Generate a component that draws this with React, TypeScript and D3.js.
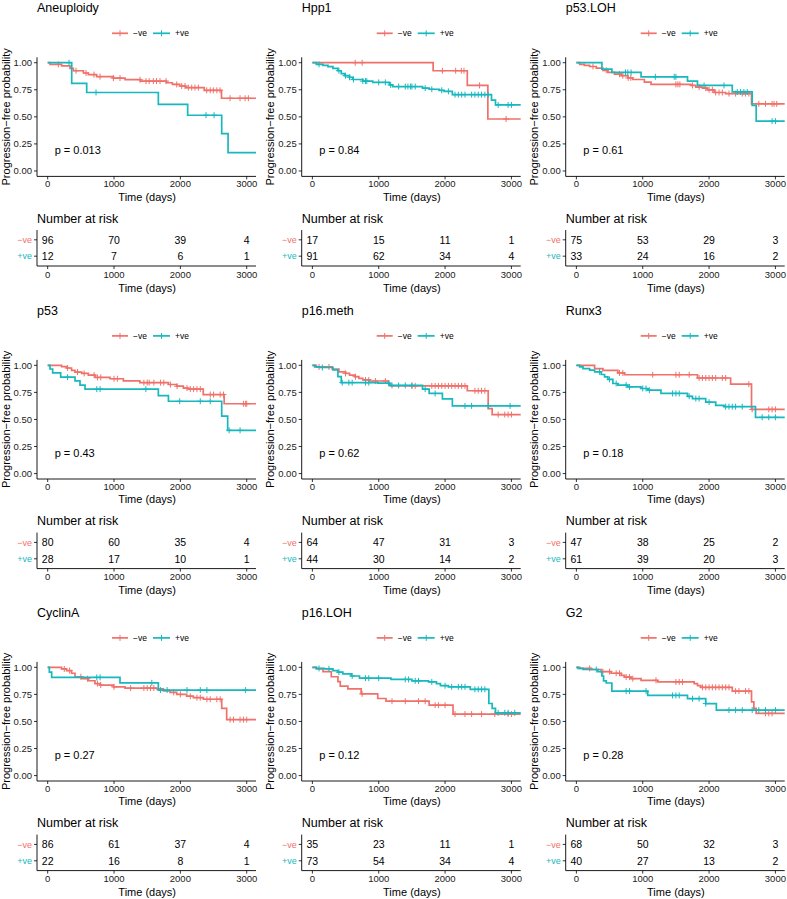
import React from "react";
import * as d3 from "d3";

// ---------- DATA ----------
const titles = ["Aneuploidy", "Hpp1", "p53.LOH", "p53", "p16.meth", "Runx3", "CyclinA", "p16.LOH", "G2"];
const pValues = ["p = 0.013", "p = 0.84", "p = 0.61", "p = 0.43", "p = 0.62", "p = 0.18", "p = 0.27", "p = 0.12", "p = 0.28"];
const groups = ["\u2212ve", "+ve"];
const riskTimes = [0, 1000, 2000, 3000];
const xTicks = [0, 1000, 2000, 3000];
const yTicks = [0, 0.25, 0.5, 0.75, 1];

const riskNeg = [
  [96, 70, 39, 4], [17, 15, 11, 1], [75, 53, 29, 3],
  [80, 60, 35, 4], [64, 47, 31, 3], [47, 38, 25, 2],
  [86, 61, 37, 4], [35, 23, 11, 1], [68, 50, 32, 3],
];
const riskPos = [
  [12, 7, 6, 1], [91, 62, 34, 4], [33, 24, 16, 2],
  [28, 17, 10, 1], [44, 30, 14, 2], [61, 39, 20, 3],
  [22, 16, 8, 1], [73, 54, 34, 4], [40, 27, 13, 2],
];

// Aneuploidy
const aneuNeg = [[35,0.985],[211,0.97],[337,0.948],[387,0.926],[538,0.905],[613,0.89],[738,0.872],[990,0.858],[1166,0.843],[1400,0.83],[1790,0.815],[1880,0.8],[1990,0.785],[2080,0.77],[2360,0.745],[2620,0.672]];
const aneuNegCens = [161,427,578,698,789,990,1090,1392,1482,1530,1593,1640,1693,1784,1945,2020,2070,2120,2171,2220,2271,2397,2450,2497,2550,2598,2749,2899,2975,3025];
const aneuPos = [[362,0.81],[588,0.725],[1668,0.615],[2110,0.515],[2623,0.345],[2719,0.17]];
const aneuPosCens = [322,729,2387,2508];
// Hpp1
const hppNeg = [[1820,0.926],[2335,0.79],[2645,0.48]];
const hppNegCens = [645,750,1960,2160,2245,2285,2520,2920];
const hppPos = [[60,0.985],[160,0.975],[235,0.963],[310,0.948],[385,0.926],[435,0.9],[485,0.88],[560,0.865],[610,0.845],[760,0.83],[910,0.818],[1160,0.795],[1210,0.78],[1660,0.765],[1760,0.755],[1910,0.745],[1985,0.735],[2110,0.705],[2700,0.655],[2760,0.61]];
const hppPosCens = [100,400,500,560,620,760,800,820,1000,1100,1180,1300,1400,1440,1480,1500,1550,1700,1800,1950,2050,2150,2200,2250,2300,2400,2450,2500,2550,2600,2650,2800,2950,3000];
// p53.LOH
const p53lohNeg = [[50,0.985],[120,0.975],[200,0.965],[300,0.95],[400,0.93],[475,0.91],[575,0.895],[675,0.88],[775,0.86],[850,0.845],[1025,0.82],[1125,0.8],[1725,0.79],[1800,0.775],[1900,0.765],[1975,0.75],[2075,0.725],[2250,0.715],[2640,0.62]];
const p53lohNegCens = [250,450,650,700,780,820,1500,1530,1560,1750,1850,1950,2000,2050,2100,2150,2200,2300,2400,2500,2550,2600,2750,2850,2950,2980,3020];
const p53lohPos = [[385,0.94],[535,0.91],[975,0.87],[1675,0.83],[1825,0.79],[2350,0.73],[2650,0.605],[2710,0.46]];
const p53lohPosCens = [740,775,825,1190,1475,1500,1925,2225,2425,2475,2525,2575,2950,3000];
// p53
const p53Neg = [[210,0.988],[287,0.975],[360,0.953],[412,0.938],[513,0.925],[613,0.91],[714,0.888],[940,0.876],[1140,0.857],[1390,0.84],[1820,0.823],[1945,0.807],[2045,0.79],[2120,0.78],[2345,0.73],[2660,0.645]];
const p53NegCens = [300,450,550,700,750,800,1000,1050,1450,1500,1530,1600,1700,1750,1850,1950,2100,2150,2200,2250,2300,2450,2500,2600,2650,2950,2980,3000];
const p53Pos = [[35,0.966],[75,0.93],[196,0.89],[412,0.857],[487,0.817],[563,0.78],[1668,0.72],[1820,0.668],[2623,0.53],[2713,0.4]];
const p53PosCens = [300,740,790,1480,1990,2300,2450,2735,2900];
// p16.meth
const p16mNeg = [[60,0.985],[300,0.965],[400,0.94],[500,0.925],[560,0.91],[640,0.895],[700,0.88],[760,0.865],[870,0.855],[1150,0.83],[1180,0.81],[2335,0.765],[2650,0.6],[2710,0.545]];
const p16mNegCens = [100,250,500,650,800,850,950,1100,1500,1550,1800,1850,1900,1950,2000,2050,2100,2150,2200,2250,2300,2450,2500,2550,2600,2800,2900,2950,3000];
const p16mPos = [[35,0.985],[110,0.98],[310,0.957],[385,0.895],[435,0.84],[985,0.835],[1160,0.815],[1660,0.78],[1760,0.74],[1960,0.69],[2110,0.625]];
const p16mPosCens = [150,450,550,600,800,850,1150,1200,1300,1400,1500,1700,1850,2300,2400,2650,2980];
// Runx3
const runxNeg = [[275,0.97],[400,0.953],[625,0.93],[725,0.913],[1825,0.883],[2325,0.826],[2640,0.593]];
const runxNegCens = [650,700,1150,1500,1550,1700,1850,1900,1950,2000,2050,2100,2200,2250,2600,2650,2900,2950,3000];
const runxPos = [[50,0.985],[100,0.97],[200,0.955],[275,0.94],[375,0.915],[425,0.894],[475,0.87],[550,0.832],[625,0.817],[775,0.8],[975,0.786],[1075,0.77],[1275,0.74],[1675,0.714],[1750,0.693],[1950,0.66],[2100,0.63],[2225,0.618],[2700,0.52]];
const runxPosCens = [350,500,600,750,800,1000,1050,1100,1450,1500,1550,1700,1800,1850,2000,2250,2300,2350,2400,2500,2800,2900,3000];
// CyclinA
const cycNeg = [[210,0.985],[285,0.97],[360,0.945],[412,0.913],[510,0.895],[612,0.876],[713,0.85],[790,0.836],[990,0.82],[1166,0.808],[1643,0.8],[1744,0.783],[1844,0.768],[1945,0.75],[2095,0.733],[2196,0.72],[2347,0.705],[2623,0.62],[2698,0.517]];
const cycNegCens = [250,330,500,600,750,800,1000,1250,1450,1500,1550,1600,1900,2000,2150,2250,2300,2400,2450,2550,2600,2750,2800,2900,2950,3000];
const cycPos = [[25,0.955],[60,0.907],[1090,0.857],[1668,0.79]];
const cycPosCens = [740,790,1570,1700,1800,2100,2300,2400,2980];
// p16.LOH
const p16lNeg = [[60,0.985],[160,0.96],[285,0.913],[385,0.867],[420,0.827],[535,0.8],[735,0.755],[985,0.712],[1110,0.687],[1760,0.65],[2120,0.568]];
const p16lNegCens = [750,1200,1400,1600,1700,1850,1900,2000,2150,2300,2400,2550,2750,2950,3000];
const p16lPos = [[60,0.99],[180,0.985],[310,0.97],[385,0.955],[460,0.94],[585,0.92],[710,0.9],[1185,0.888],[1500,0.875],[1750,0.865],[1870,0.85],[1930,0.83],[2050,0.82],[2380,0.797],[2660,0.666],[2710,0.62],[2760,0.58]];
const p16lPosCens = [100,250,400,600,800,850,1000,1400,1450,1550,1600,1800,2000,2100,2200,2250,2300,2450,2500,2550,2600,2800,2900,2950,3050];
// G2
const g2Neg = [[50,0.99],[225,0.98],[375,0.96],[525,0.945],[675,0.925],[725,0.91],[825,0.895],[975,0.88],[1225,0.865],[1775,0.85],[1825,0.83],[1875,0.815],[2350,0.78],[2640,0.68],[2675,0.62],[2710,0.575]];
const g2NegCens = [200,400,500,600,650,750,800,850,1200,1500,1550,1600,1900,1950,2000,2050,2100,2150,2200,2250,2300,2400,2450,2550,2600,2850,2900,2950];
const g2Pos = [[25,0.99],[100,0.98],[325,0.96],[385,0.92],[410,0.875],[450,0.855],[535,0.78],[1075,0.74],[1675,0.71],[1950,0.665],[2110,0.605]];
const g2PosCens = [300,750,800,1050,1450,1500,1550,1750,1850,1950,2300,2400,2500,2650,2750,2850,3000];

const negSteps = [aneuNeg, hppNeg, p53lohNeg, p53Neg, p16mNeg, runxNeg, cycNeg, p16lNeg, g2Neg];
const negCens = [aneuNegCens, hppNegCens, p53lohNegCens, p53NegCens, p16mNegCens, runxNegCens, cycNegCens, p16lNegCens, g2NegCens];
const posSteps = [aneuPos, hppPos, p53lohPos, p53Pos, p16mPos, runxPos, cycPos, p16lPos, g2Pos];
const posCens = [aneuPosCens, hppPosCens, p53lohPosCens, p53PosCens, p16mPosCens, runxPosCens, cycPosCens, p16lPosCens, g2PosCens];

// ---------- STYLE / LAYOUT ----------
const RED = "#F0716A";
const TEAL = "#17B8BE";
const FONT = "'Liberation Sans', Arial, Helvetica, sans-serif";
const COLS = [37, 301.7, 565.7];
const ROWS = [0, 302.6, 604.6];
const PLOT_W = 219;
const X_DOMAIN = [-161, 3140];

function survAt(steps: number[][], t: number) {
  let s = 1;
  for (const [st, sv] of steps) {
    if (st <= t) s = sv;
    else break;
  }
  return s;
}

function Curve({ steps, cens, color, x, y }: any) {
  const pts: [number, number][] = [[0, 1], ...steps.map((d: number[]) => [d[0], d[1]] as [number, number])];
  pts.push([X_DOMAIN[1], steps.length ? steps[steps.length - 1][1] : 1]);
  const line = d3.line<[number, number]>().x((d) => x(d[0])).y((d) => y(d[1])).curve(d3.curveStepAfter);
  return (
    <g>
      <path d={line(pts) || ""} fill="none" stroke={color} strokeWidth={1.7} />
      {cens.map((t: number, i: number) => {
        const cx = x(t);
        const cy = y(survAt(steps, t));
        return (
          <path key={i} d={`M${cx - 3},${cy}H${cx + 3}M${cx},${cy - 3}V${cy + 3}`} stroke={color} strokeWidth={1} fill="none" />
        );
      })}
    </g>
  );
}

function Panel({ idx }: { idx: number }) {
  const ax = COLS[idx % 3];
  const ry = ROWS[Math.floor(idx / 3)];
  const x = d3.scaleLinear().domain(X_DOMAIN).range([ax, ax + PLOT_W]);
  const y = d3.scaleLinear().domain([-0.05, 1.05]).range([ry + 176.4, ry + 57.3]);
  const top = ry + 57.3;
  const bottom = ry + 176.4;
  const rTop = ry + 230;
  const rBottom = ry + 266;
  const ryScale = d3.scalePoint<string>().domain(groups).range([rTop, rBottom]).padding(0.6);
  const clipId = `clip${idx}`;
  const legY = ry + 33.3;
  const axisColor = "#000";
  const tickText = "#1a1a1a";
  return (
    <g fontFamily={FONT}>
      <defs>
        <clipPath id={clipId}>
          <rect x={ax} y={top - 4} width={PLOT_W + 2} height={bottom - top + 8} />
        </clipPath>
      </defs>
      <text x={ax} y={ry + 12} fontSize={12.5} fill="#000">{titles[idx]}</text>
      {/* legend */}
      <g fontSize={8.5}>
        <line x1={ax + 75} x2={ax + 91} y1={legY} y2={legY} stroke={RED} strokeWidth={1.7} />
        <path d={`M${ax + 83},${legY - 3}V${legY + 3}`} stroke={RED} strokeWidth={1} />
        <text x={ax + 96} y={legY + 3} fill="#000">{groups[0]}</text>
        <line x1={ax + 116} x2={ax + 133} y1={legY} y2={legY} stroke={TEAL} strokeWidth={1.7} />
        <path d={`M${ax + 124.5},${legY - 3}V${legY + 3}`} stroke={TEAL} strokeWidth={1} />
        <text x={ax + 138} y={legY + 3} fill="#000">{groups[1]}</text>
      </g>
      {/* curves */}
      <g clipPath={`url(#${clipId})`}>
        <Curve steps={negSteps[idx]} cens={negCens[idx]} color={RED} x={x} y={y} />
        <Curve steps={posSteps[idx]} cens={posCens[idx]} color={TEAL} x={x} y={y} />
      </g>
      {/* axes */}
      <line x1={ax} x2={ax} y1={top} y2={bottom} stroke={axisColor} strokeWidth={0.9} />
      <line x1={ax} x2={ax + PLOT_W} y1={bottom} y2={bottom} stroke={axisColor} strokeWidth={0.9} />
      {yTicks.map((t) => (
        <g key={t}>
          <line x1={ax - 3} x2={ax} y1={y(t)} y2={y(t)} stroke={axisColor} strokeWidth={0.8} />
          <text x={ax - 5} y={y(t) + 3.3} textAnchor="end" fontSize={9.5} fill={tickText}>{d3.format(".2f")(t)}</text>
        </g>
      ))}
      {xTicks.map((t) => (
        <g key={t}>
          <line x1={x(t)} x2={x(t)} y1={bottom} y2={bottom + 3} stroke={axisColor} strokeWidth={0.8} />
          <text x={x(t)} y={bottom + 11} textAnchor="middle" fontSize={9.5} fill={tickText}>{t}</text>
        </g>
      ))}
      <text x={x(1500)} y={ry + 200.5} textAnchor="middle" fontSize={11} fill="#000">Time (days)</text>
      <text transform={`translate(${ax - 27.5},${(top + bottom) / 2}) rotate(-90)`} textAnchor="middle" fontSize={11} fill="#000">
        Progression{"\u2212"}free probability
      </text>
      <text x={x(60) + 3} y={ry + 154} fontSize={11} fill="#000">{pValues[idx]}</text>
      {/* risk table */}
      <text x={ax} y={ry + 222.5} fontSize={12.5} fill="#000">Number at risk</text>
      <line x1={ax} x2={ax} y1={rTop} y2={rBottom} stroke={axisColor} strokeWidth={0.9} />
      <line x1={ax} x2={ax + PLOT_W} y1={rBottom} y2={rBottom} stroke={axisColor} strokeWidth={0.9} />
      {groups.map((g, gi) => {
        const yy = ryScale(g) as number;
        const vals = gi === 0 ? riskNeg[idx] : riskPos[idx];
        return (
          <g key={g}>
            <line x1={ax - 3} x2={ax} y1={yy} y2={yy} stroke={axisColor} strokeWidth={0.8} />
            <text x={ax - 5} y={yy + 3.2} textAnchor="end" fontSize={9} fill={gi === 0 ? RED : TEAL}>{g}</text>
            {riskTimes.map((t, ti) => (
              <text key={t} x={x(t)} y={yy + 3.8} textAnchor="middle" fontSize={10.5} fill="#000">{vals[ti]}</text>
            ))}
          </g>
        );
      })}
      {xTicks.map((t) => (
        <g key={"r" + t}>
          <line x1={x(t)} x2={x(t)} y1={rBottom} y2={rBottom + 3} stroke={axisColor} strokeWidth={0.8} />
          <text x={x(t)} y={rBottom + 11.5} textAnchor="middle" fontSize={9.5} fill={tickText}>{t}</text>
        </g>
      ))}
      <text x={x(1500)} y={ry + 291.5} textAnchor="middle" fontSize={11} fill="#000">Time (days)</text>
    </g>
  );
}

export default function App() {
  return (
    <svg width={787} height={899} style={{ position: "absolute", left: 0, top: 0, background: "#fff" }}>
      <rect width={787} height={899} fill="#fff" />
      {titles.map((_, i) => (
        <Panel key={i} idx={i} />
      ))}
    </svg>
  );
}
